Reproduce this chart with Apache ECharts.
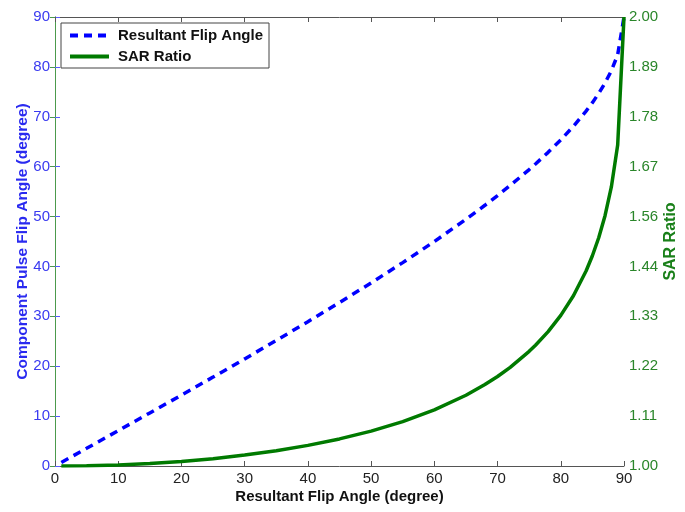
<!DOCTYPE html>
<html><head><meta charset="utf-8">
<script src="https://cdn.jsdelivr.net/npm/echarts@6/dist/echarts.min.js"></script>
<style>html,body{margin:0;padding:0;background:#fff}#c{width:685px;height:512px}</style>
</head><body><div id="c"></div>
<script>
var resultantAngle = [1,5,10,15,20,25,30,35,40,45,50,55,60,65,68,70,72,75,76,78,80,82,84,85,86,87,88,89,90];
var componentAngle = [0.71,3.54,7.08,10.64,14.21,17.82,21.47,25.17,28.93,32.77,36.70,40.77,45.00,49.45,52.26,54.21,56.23,59.42,60.54,62.87,65.37,68.10,71.14,72.83,74.69,76.78,79.23,82.41,90.00];
var sarRatio = [1.000,1.0006,1.0025,1.0053,1.0102,1.0164,1.0244,1.0340,1.0459,1.0603,1.0777,1.0989,1.125,1.1576,1.1814,1.1994,1.2198,1.2554,1.2690,1.2994,1.3355,1.3793,1.4344,1.4683,1.5084,1.5575,1.6214,1.7147,2.000];
var xTicks = {min:0, max:90, step:10};
var leftTicks = {min:0, max:90, step:10};
var rightTicks = {min:1, max:2, count:9};

var blue = '#0000ff', green = '#007a00';
var font = '"Liberation Sans", Arial, sans-serif';
var chart = echarts.init(document.getElementById('c'), null, {renderer:'canvas'});
chart.setOption({
  animation:false,
  backgroundColor:'#fff',
  grid:{left:55, right:61, top:17, bottom:46, containLabel:false, outerBoundsMode:'none'},
  legend:{
    orient:'vertical', left:61, top:23,
    padding:[5,6,4,7], itemGap:6, itemWidth:39, itemHeight:14,
    backgroundColor:'#fff', borderColor:'#444', borderWidth:1,
    itemStyle:{opacity:0},
    lineStyle:{width:4},
    textStyle:{fontFamily:font, fontWeight:'bold', fontSize:15, color:'#111', padding:[0,0,0,4]},
    data:['Resultant Flip Angle','SAR Ratio']
  },
  xAxis:[{
    type:'value', min:xTicks.min, max:xTicks.max, interval:xTicks.step, position:'bottom',
    name:'Resultant Flip Angle (degree)', nameLocation:'middle', nameGap:23, nameMoveOverlap:false,
    nameTextStyle:{fontFamily:font, fontWeight:'bold', fontSize:15, color:'#111'},
    axisLine:{lineStyle:{color:'#555', width:1}},
    axisTick:{inside:true, length:5, lineStyle:{color:'#555'}},
    axisLabel:{fontFamily:font, fontSize:15, color:'#222', margin:5},
    splitLine:{show:false}
  },{
    type:'value', min:xTicks.min, max:xTicks.max, interval:xTicks.step, position:'top',
    axisLine:{lineStyle:{color:'#555', width:1}},
    axisTick:{inside:true, length:5, lineStyle:{color:'#555'}},
    axisLabel:{show:false}, splitLine:{show:false}
  }],
  yAxis:[{
    type:'value', min:leftTicks.min, max:leftTicks.max, interval:leftTicks.step, position:'left',
    name:'Component Pulse Flip Angle (degree)', nameLocation:'middle', nameGap:24, nameMoveOverlap:false,
    nameTextStyle:{fontFamily:font, fontWeight:'bold', fontSize:15.5, color:'#2a2af0'},
    axisLine:{show:true, lineStyle:{color:'#5a5aff', width:1}},
    axisTick:{show:true, inside:true, length:5, lineStyle:{color:'#5a5aff'}},
    axisLabel:{fontFamily:font, fontSize:15, color:'#3a3af0', margin:5},
    splitLine:{show:false}
  },{
    type:'value', min:rightTicks.min, max:rightTicks.max,
    interval:(rightTicks.max-rightTicks.min)/rightTicks.count, position:'right',
    name:'SAR Ratio', nameLocation:'middle', nameGap:39, nameMoveOverlap:false,
    nameTextStyle:{fontFamily:font, fontWeight:'bold', fontSize:16, color:'#1a801a'},
    axisLine:{show:true, lineStyle:{color:'#4c9a4c', width:1}},
    axisTick:{show:true, inside:true, length:5, lineStyle:{color:'#4c9a4c'}},
    axisLabel:{fontFamily:font, fontSize:15, color:'#2a862a', margin:5,
      formatter:function(v){return v.toFixed(2);}},
    splitLine:{show:false}
  }],
  series:[{
    name:'Resultant Flip Angle', type:'line', xAxisIndex:0, yAxisIndex:0,
    showSymbol:false, symbol:'none', smooth:false,
    lineStyle:{color:blue, width:3.5, type:[8,6]},
    itemStyle:{color:blue},
    data:resultantAngle.map(function(x,i){return [x, componentAngle[i]];})
  },{
    name:'SAR Ratio', type:'line', xAxisIndex:0, yAxisIndex:1,
    showSymbol:false, symbol:'none', smooth:false,
    lineStyle:{color:green, width:3.5},
    itemStyle:{color:green},
    data:resultantAngle.map(function(x,i){return [x, sarRatio[i]];})
  }]
});
</script></body></html>
